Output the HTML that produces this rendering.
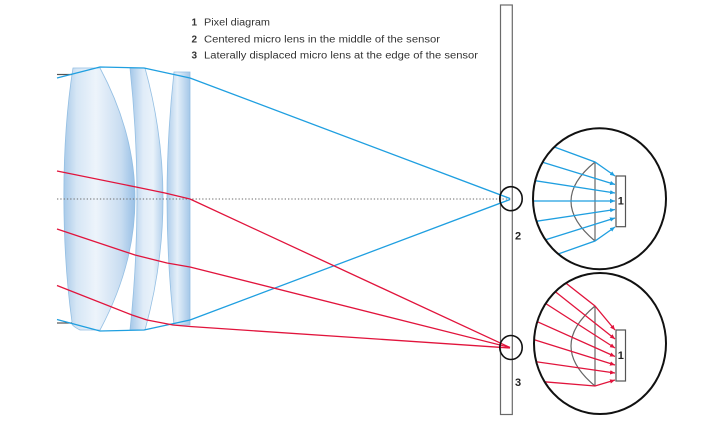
<!DOCTYPE html>
<html><head><meta charset="utf-8"><style>
html,body{margin:0;padding:0;background:#fff;}
svg{display:block;}
</style></head><body>
<svg width="720" height="423" viewBox="0 0 720 423" xmlns="http://www.w3.org/2000/svg">
<defs>
<linearGradient id="g1" x1="0" y1="0" x2="1" y2="0">
<stop offset="0" stop-color="#a9cae9"/>
<stop offset="0.18" stop-color="#d6e6f5"/>
<stop offset="0.45" stop-color="#edf4fb"/>
<stop offset="0.8" stop-color="#c9ddf1"/>
<stop offset="1" stop-color="#98c0e6"/>
</linearGradient>
<linearGradient id="g2" x1="0" y1="0" x2="1" y2="0">
<stop offset="0" stop-color="#a4c7e8"/>
<stop offset="0.4" stop-color="#e0ecf8"/>
<stop offset="0.7" stop-color="#e9f2fa"/>
<stop offset="1" stop-color="#b3d0ec"/>
</linearGradient>
<linearGradient id="g3" x1="0" y1="0" x2="1" y2="0">
<stop offset="0" stop-color="#aecdeb"/>
<stop offset="0.45" stop-color="#e4eff9"/>
<stop offset="1" stop-color="#a4c7e8"/>
</linearGradient>
<clipPath id="c1"><ellipse cx="599.5" cy="198.7" rx="66" ry="70"/></clipPath>
<clipPath id="c2"><ellipse cx="600" cy="343.5" rx="65.5" ry="70"/></clipPath>
<marker id="ab" markerWidth="6" markerHeight="6" refX="5" refY="3" orient="auto" markerUnits="userSpaceOnUse">
<path d="M0,0.8 L5,3 L0,5.2 Z" fill="#1f9fe0"/>
</marker>
<marker id="ar" markerWidth="6" markerHeight="6" refX="5" refY="3" orient="auto" markerUnits="userSpaceOnUse">
<path d="M0,0.8 L5,3 L0,5.2 Z" fill="#e1143c"/>
</marker>
</defs>

<!-- legend -->
<g font-family="Liberation Sans, Arial, sans-serif" font-size="10" fill="#333">
<text x="191.5" y="25.3" font-weight="bold">1</text>
<text x="204" y="25.3" textLength="66" lengthAdjust="spacingAndGlyphs">Pixel diagram</text>
<text x="191.5" y="42.3" font-weight="bold">2</text>
<text x="204" y="42.3" textLength="236" lengthAdjust="spacingAndGlyphs">Centered micro lens in the middle of the sensor</text>
<text x="191.5" y="58.5" font-weight="bold">3</text>
<text x="204" y="58.5" textLength="274" lengthAdjust="spacingAndGlyphs">Laterally displaced micro lens at the edge of the sensor</text>
</g>

<!-- sensor -->
<rect x="500.5" y="5" width="11.8" height="409.5" fill="#fff" stroke="#6a6a6a" stroke-width="1.2"/>

<!-- lenses -->
<g stroke="#94bfe3" stroke-width="0.8">
<path d="M73,68 L100,68 Q170,199 100,330 L80,330 Q70,325 72,322 C62,250 60,150 73,68 Z" fill="url(#g1)"/>
<path d="M130,68 L145,68 Q181,199 145,330 L130,330 Q144,199 130,68 Z" fill="url(#g2)"/>
<path d="M174,72 L190,72 L190,325 L174,325 Q160,199 174,72 Z" fill="url(#g3)"/>
</g>

<!-- short stubs -->
<line x1="57" y1="74.5" x2="72" y2="74.5" stroke="#555" stroke-width="1.2"/>
<line x1="57" y1="323" x2="72" y2="323" stroke="#555" stroke-width="1.2"/>

<!-- axis -->
<line x1="57" y1="199" x2="511" y2="199" stroke="#6a6a6a" stroke-width="1" stroke-dasharray="1.3 2"/>

<!-- main blue rays -->
<g fill="none" stroke="#1f9fe0" stroke-width="1.3" stroke-linejoin="round">
<polyline points="57,78 100,67 144,68 190,78 510,198.5"/>
<polyline points="57,319.5 100,331 144,330 190,320 510,199.5"/>
</g>

<!-- main red rays -->
<g fill="none" stroke="#e1143c" stroke-width="1.3" stroke-linejoin="round">
<polyline points="57,171 136,187 165,193 190,199 510,347.5"/>
<polyline points="57,229 135,255 167,263 190,267 510,347.5"/>
<polyline points="57,285.5 132,315 147,320 173,325 190,326.5 510,348"/>
</g>

<!-- small circles -->
<ellipse cx="511" cy="198.7" rx="11.2" ry="12" fill="none" stroke="#111" stroke-width="1.6"/>
<ellipse cx="511" cy="347.5" rx="11.2" ry="12" fill="none" stroke="#111" stroke-width="1.6"/>
<g font-family="Liberation Sans, Arial, sans-serif" font-size="11" font-weight="bold" fill="#222">
<text x="515" y="239.5">2</text>
<text x="515" y="386">3</text>
</g>

<!-- top detail circle -->
<ellipse cx="599.5" cy="198.7" rx="66.5" ry="70.5" fill="#fff"/>
<g fill="none" stroke="#666" stroke-width="1.2">
<path d="M595,162 Q547,201 595,241"/>
<line x1="595" y1="162" x2="595" y2="241"/>
</g>
<rect x="616" y="176" width="9.5" height="50.7" fill="#fff" stroke="#555" stroke-width="1.2"/>
<text x="620.8" y="204.5" font-family="Liberation Sans, Arial, sans-serif" font-size="11" font-weight="bold" fill="#222" text-anchor="middle">1</text>
<g fill="none" stroke="#1f9fe0" stroke-width="1.3" marker-end="url(#ab)" clip-path="url(#c1)">
<polyline points="538,141 595,162 615,176"/>
<line x1="527.5" y1="157.6" x2="615" y2="184.5"/>
<line x1="517.5" y1="178" x2="615" y2="193"/>
<line x1="515" y1="201" x2="615" y2="201"/>
<line x1="518.75" y1="223.9" x2="615" y2="209.5"/>
<line x1="527.9" y1="245.3" x2="615" y2="218"/>
<polyline points="544,259 595,241 615,227"/>
</g>
<ellipse cx="599.5" cy="198.7" rx="66.5" ry="70.5" fill="none" stroke="#111" stroke-width="2"/>

<!-- bottom detail circle -->
<ellipse cx="600" cy="343.5" rx="66" ry="70.5" fill="#fff"/>
<g fill="none" stroke="#666" stroke-width="1.2">
<path d="M595,306 Q547,346 595,386"/>
<line x1="595" y1="306" x2="595" y2="386"/>
</g>
<rect x="616" y="330" width="9.5" height="51" fill="#fff" stroke="#555" stroke-width="1.2"/>
<text x="620.8" y="359" font-family="Liberation Sans, Arial, sans-serif" font-size="11" font-weight="bold" fill="#222" text-anchor="middle">1</text>
<g fill="none" stroke="#e1143c" stroke-width="1.3" marker-end="url(#ar)" clip-path="url(#c2)">
<polyline points="553,273 595,306 615,330"/>
<line x1="539.6" y1="279.2" x2="615" y2="339"/>
<line x1="527.9" y1="292.1" x2="615" y2="348"/>
<line x1="518.75" y1="313.4" x2="615" y2="356.5"/>
<line x1="515" y1="333.75" x2="615" y2="365"/>
<line x1="518.75" y1="359.25" x2="615" y2="373"/>
<polyline points="527.8,380.4 595,386 615,380"/>
</g>
<ellipse cx="600" cy="343.5" rx="66" ry="70.5" fill="none" stroke="#111" stroke-width="2"/>
</svg>
</body></html>
